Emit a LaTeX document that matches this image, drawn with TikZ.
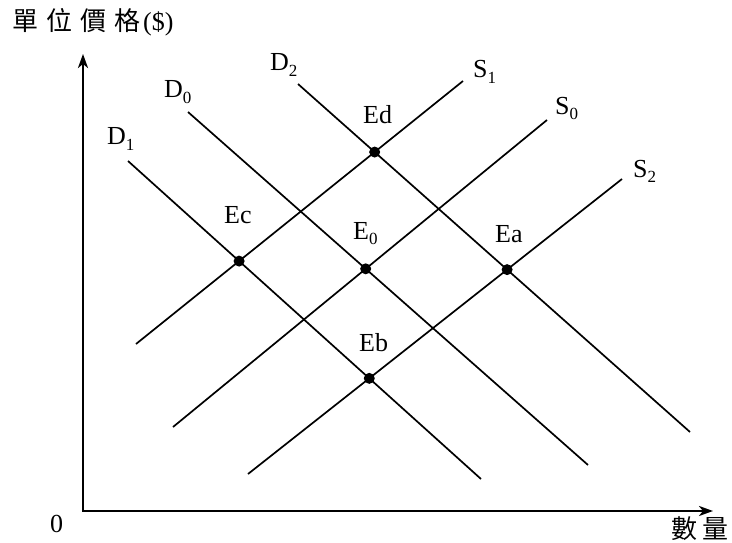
\documentclass[tikz,border=0pt]{standalone}
\usepackage{fontspec}
\setmainfont{Liberation Serif}
\newfontfamily\cjk{Noto Sans CJK TC}
\usetikzlibrary{arrows.meta,intersections}
\newcommand{\lsub}[1]{\raisebox{-0.2em}{\fontsize{17}{17}\selectfont #1}}
\begin{document}
\begin{tikzpicture}[x=1pt,y=-1pt,
  curve/.style={line width=1.7pt},
  axis/.style={line width=2.3pt,{Stealth[length=14pt,width=10pt,inset=4pt]}-{Stealth[length=14pt,width=10pt,inset=4pt]}},
  lbl/.style={inner sep=0pt,anchor=base west,font=\fontsize{26}{30}\selectfont},
  cjklbl/.style={inner sep=0pt,anchor=base west,font=\fontsize{26}{30}\selectfont},
  dot/.style={circle,fill=black,inner sep=0pt,minimum size=11pt}]
\useasboundingbox (0,0) rectangle (732,543);
% axes
\coordinate (O) at (83,511);
\coordinate (Ytop) at (83,54);
\coordinate (Xend) at (713,511);
\draw[axis] (Ytop) -- (O) -- (Xend);
% curve end points
\coordinate (D1a) at (128,161); \coordinate (D1b) at (481,479);
\coordinate (D0a) at (188,112); \coordinate (D0b) at (588,465);
\coordinate (D2a) at (298,84);  \coordinate (D2b) at (690,432);
\coordinate (S1a) at (136,344); \coordinate (S1b) at (463,81);
\coordinate (S0a) at (173,427); \coordinate (S0b) at (547,120);
\coordinate (S2a) at (248,474); \coordinate (S2b) at (622,179);
\draw[curve,name path=D1] (D1a) -- (D1b);
\draw[curve,name path=D0] (D0a) -- (D0b);
\draw[curve,name path=D2] (D2a) -- (D2b);
\draw[curve,name path=S1] (S1a) -- (S1b);
\draw[curve,name path=S0] (S0a) -- (S0b);
\draw[curve,name path=S2] (S2a) -- (S2b);
% equilibria
\path[name intersections={of=D2 and S1,by=iEd}];
\path[name intersections={of=D1 and S1,by=iEc}];
\path[name intersections={of=D0 and S0,by=iE0}];
\path[name intersections={of=D2 and S2,by=iEa}];
\path[name intersections={of=D1 and S2,by=iEb}];
\node[dot] (Ed) at (iEd) {};
\node[dot] (Ec) at (iEc) {};
\node[dot] (E0) at (iE0) {};
\node[dot] (Ea) at (iEa) {};
\node[dot] (Eb) at (iEb) {};
% labels
\node[lbl] (lD1) at (107,145) {D\lsub{1}};
\node[lbl] (lD0) at (164,98) {D\lsub{0}};
\node[lbl] (lD2) at (270,71) {D\lsub{2}};
\node[lbl] (lS1) at (473,78) {S\lsub{1}};
\node[lbl] (lS0) at (555,114) {S\lsub{0}};
\node[lbl] (lS2) at (633,177) {S\lsub{2}};
\node[lbl] (lEd) at (363,124) {Ed};
\node[lbl] (lEc) at (224,223) {Ec};
\node[lbl] (lE0) at (353,239) {E\lsub{0}};
\node[lbl] (lEa) at (495,242) {Ea};
\node[lbl] (lEb) at (359,351) {Eb};
\node[lbl] (l0) at (50,532) {0};
\node[cjklbl] (ylab) at (12,31) {\cjk 單\hspace{8pt}位\hspace{8pt}價\hspace{8pt}格\hspace{3pt}\rmfamily(\$)};
\node[cjklbl] (xlab) at (671,538) {\cjk 數\hspace{5pt}量};
\end{tikzpicture}
\end{document}
